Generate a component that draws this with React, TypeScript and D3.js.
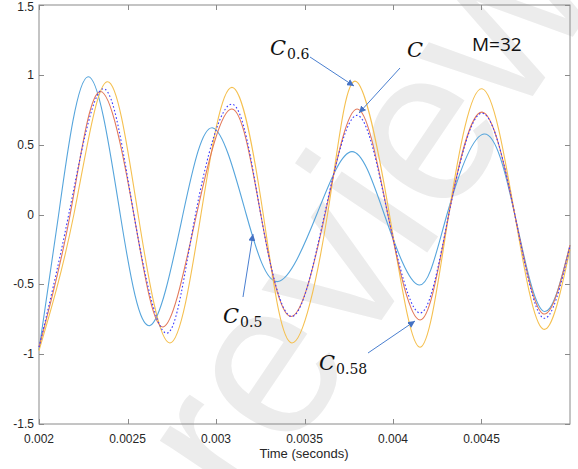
import { useEffect, useRef } from 'react';
import * as d3 from 'd3';

// points: [time, value] at start, zero crossings, extrema, end
const c05: [number, number][] = [
  [0.002, -0.97], [0.002111, 0], [0.002277, 0.986], [0.002459, 0], [0.002627, -0.795],
  [0.002813, 0], [0.002983, 0.62], [0.003171, 0], [0.00335, -0.48], [0.003569, 0],
  [0.003768, 0.45], [0.003951, 0], [0.004147, -0.505], [0.004305, 0], [0.004514, 0.576],
  [0.004688, 0], [0.004847, -0.69], [0.005, -0.22],
];
const c058: [number, number][] = [
  [0.002, -0.95], [0.002176, 0], [0.002345, 0.88], [0.002536, 0], [0.002701, -0.805],
  [0.00289, 0], [0.00309, 0.755], [0.003253, 0], [0.003424, -0.73], [0.003616, 0],
  [0.003797, 0.755], [0.003971, 0], [0.004153, -0.755], [0.004315, 0], [0.004503, 0.733],
  [0.004688, 0], [0.004847, -0.71], [0.005, -0.22],
];
const cRef: [number, number][] = [
  [0.002, -0.95], [0.002168, 0], [0.002362, 0.9], [0.002536, 0], [0.002723, -0.85],
  [0.002884, 0], [0.00309, 0.79], [0.003253, 0], [0.003429, -0.73], [0.003613, 0],
  [0.003797, 0.71], [0.003971, 0], [0.004153, -0.705], [0.004315, 0], [0.004503, 0.725],
  [0.004688, 0], [0.004847, -0.74], [0.005, -0.23],
];
const c06: [number, number][] = [
  [0.002, -0.975], [0.002197, 0], [0.002384, 0.95], [0.00256, 0], [0.00274, -0.92],
  [0.002915, 0], [0.00309, 0.91], [0.003267, 0], [0.003429, -0.92], [0.00363, 0],
  [0.003785, 0.955], [0.00398, 0], [0.004153, -0.95], [0.004315, 0], [0.004503, 0.9],
  [0.004688, 0], [0.004847, -0.82], [0.005, -0.25],
];

const xTicks = [0.002, 0.0025, 0.003, 0.0035, 0.004, 0.0045];
const xTickLabels = ['0.002', '0.0025', '0.003', '0.0035', '0.004', '0.0045'];
const yTicks = [-1.5, -1, -0.5, 0, 0.5, 1, 1.5];

export default function App() {
  const svgRef = useRef<SVGSVGElement>(null);

  useEffect(() => {
    if (!svgRef.current) return;
    const svg = d3.select(svgRef.current);
    svg.selectAll('*').remove();

    const left = 39, right = 570, top = 5, bottom = 424;
    const x = d3.scaleLinear().domain([0.002, 0.005]).range([left, right]);
    const y = d3.scaleLinear().domain([-1.5, 1.5]).range([bottom, top]);

    // watermark
    svg.append('text')
      .attr('transform', 'translate(248,518) rotate(-56)')
      .attr('font-family', 'Liberation Sans, Arial, sans-serif')
      .attr('font-size', 220)
      .attr('fill', '#ececec')
      .text('review');

    const defs = svg.append('defs');
    defs.append('marker')
      .attr('id', 'head')
      .attr('viewBox', '0 0 10 10')
      .attr('refX', 10).attr('refY', 5)
      .attr('markerWidth', 7).attr('markerHeight', 7)
      .attr('markerUnits', 'userSpaceOnUse')
      .attr('orient', 'auto')
      .append('path')
      .attr('d', 'M0,0 L10,5 L0,10 z')
      .attr('fill', '#4472c4');

    const g = svg.append('g');

    // box + ticks
    g.append('rect')
      .attr('x', left).attr('y', top)
      .attr('width', right - left).attr('height', bottom - top)
      .attr('fill', 'none').attr('stroke', '#8a8a8a').attr('stroke-width', 1);

    const tl = 5;
    xTicks.forEach((t, i) => {
      const px = Math.round(x(t)) + 0.5;
      g.append('line').attr('x1', px).attr('x2', px).attr('y1', bottom).attr('y2', bottom - tl)
        .attr('stroke', '#8a8a8a');
      g.append('line').attr('x1', px).attr('x2', px).attr('y1', top).attr('y2', top + tl)
        .attr('stroke', '#8a8a8a');
      g.append('text')
        .attr('x', x(t)).attr('y', bottom + 19)
        .attr('text-anchor', 'middle')
        .attr('font-family', 'Liberation Sans, Arial, sans-serif')
        .attr('font-size', 12).attr('fill', '#262626')
        .text(xTickLabels[i]);
    });
    yTicks.forEach((v) => {
      const py = Math.round(y(v)) + 0.5;
      g.append('line').attr('x1', left).attr('x2', left + tl).attr('y1', py).attr('y2', py)
        .attr('stroke', '#8a8a8a');
      g.append('line').attr('x1', right).attr('x2', right - tl).attr('y1', py).attr('y2', py)
        .attr('stroke', '#8a8a8a');
      g.append('text')
        .attr('x', left - 5).attr('y', Math.max(y(v) + 4, 11))
        .attr('text-anchor', 'end')
        .attr('font-family', 'Liberation Sans, Arial, sans-serif')
        .attr('font-size', 12).attr('fill', '#262626')
        .text(String(v));
    });

    g.append('text')
      .attr('x', 304).attr('y', 458)
      .attr('text-anchor', 'middle')
      .attr('font-family', 'Liberation Sans, Arial, sans-serif')
      .attr('font-size', 13).attr('fill', '#262626')
      .text('Time (seconds)');

    const line = d3.line<[number, number]>()
      .x(d => x(d[0])).y(d => y(d[1]))
      .curve(d3.curveNatural);

    const series = [
      { data: c05, color: '#56a5dc', dash: null },
      { data: c06, color: '#f5c050', dash: null },
      { data: c058, color: '#e3795a', dash: null },
      { data: cRef, color: '#3b3bff', dash: '1.6,2.2' },
    ];
    series.forEach(s => {
      const p = g.append('path')
        .attr('d', line(s.data))
        .attr('fill', 'none')
        .attr('stroke', s.color)
        .attr('stroke-width', 1.1);
      if (s.dash) p.attr('stroke-dasharray', s.dash);
    });

    // annotations
    const arrows = [
      [310, 57, 354, 86],
      [400, 68, 359, 113],
      [243, 297, 253, 234],
      [368, 353, 415, 321],
    ];
    arrows.forEach(a => {
      g.append('line')
        .attr('x1', a[0]).attr('y1', a[1]).attr('x2', a[2]).attr('y2', a[3])
        .attr('stroke', '#4a7fd0').attr('stroke-width', 1)
        .attr('marker-end', 'url(#head)');
    });

    const labels = [
      { x: 270, y: 55, sub: '0.6' },
      { x: 407, y: 57, sub: '' },
      { x: 223, y: 323, sub: '0.5' },
      { x: 319, y: 370, sub: '0.58' },
    ];
    labels.forEach(l => {
      const t = g.append('text')
        .attr('x', l.x).attr('y', l.y)
        .attr('font-family', 'DejaVu Serif, serif')
        .attr('fill', '#111');
      t.append('tspan').attr('font-style', 'italic').attr('font-size', 21).text('C');
      if (l.sub) {
        t.append('tspan').attr('font-size', 14).attr('dy', 4).attr('dx', 1).text(l.sub);
      }
    });

    g.append('text')
      .attr('x', 472).attr('y', 51)
      .attr('font-family', 'Open Sans, sans-serif')
      .attr('font-size', 19).attr('fill', '#111')
      .text('M=32');
  }, []);

  return (
    <svg
      ref={svgRef}
      width={578}
      height={469}
      style={{ position: 'absolute', left: 0, top: 0, background: '#fff' }}
    />
  );
}
